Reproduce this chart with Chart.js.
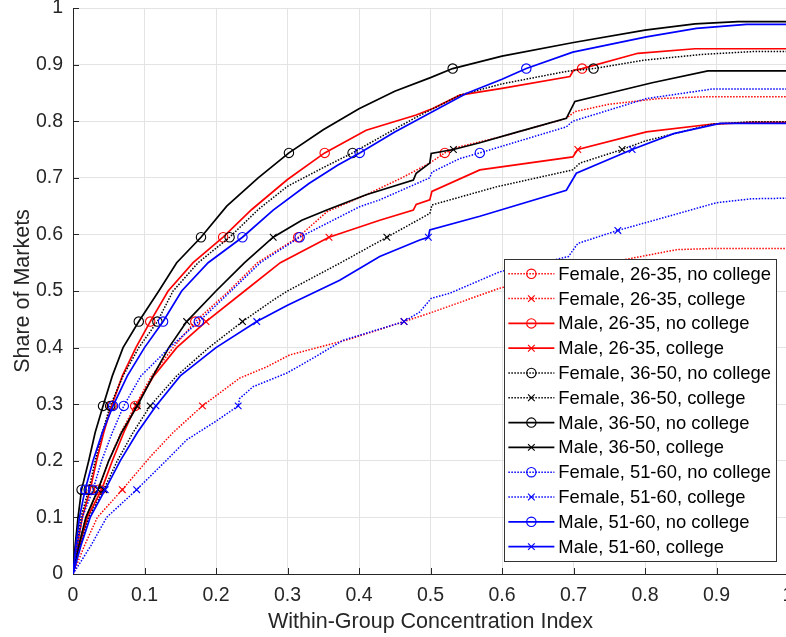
<!DOCTYPE html>
<html>
<head>
<meta charset="utf-8">
<script src="https://cdn.jsdelivr.net/npm/chart.js@4.4.1/dist/chart.umd.min.js"></script>
<style>
    html, body { margin: 0; padding: 0; overflow: hidden; background: #fff; }
    #wrap { position: relative; width: 800px; height: 637px; }
</style>
</head>
<body>
<div id="wrap"><canvas id="chart"></canvas></div>
<script>
'use strict';

// Each curve: [concentration index, share of markets].
const f2635nc = [[0,0],[0.008,0.05],[0.018,0.10],[0.036,0.149],[0.050,0.2],[0.067,0.25],[0.087,0.297],[0.110,0.35],[0.140,0.40],[0.171,0.446],[0.218,0.5],[0.258,0.55],[0.315,0.595],[0.355,0.64],[0.41,0.67],[0.46,0.70],[0.499,0.726],[0.520,0.744],[0.541,0.755],[0.60,0.773],[0.69,0.805],[0.702,0.817],[0.75,0.83],[0.82,0.840],[0.88,0.843],[1,0.843]];
const f2635c = [[0,0],[0.016,0.05],[0.034,0.10],[0.069,0.149],[0.108,0.207],[0.140,0.25],[0.181,0.297],[0.233,0.346],[0.271,0.366],[0.303,0.387],[0.387,0.415],[0.463,0.446],[0.499,0.461],[0.597,0.505],[0.65,0.522],[0.70,0.537],[0.774,0.556],[0.844,0.573],[0.891,0.575],[1,0.575]];
const m2635nc = [[0,0],[0.006,0.05],[0.013,0.10],[0.024,0.149],[0.033,0.2],[0.043,0.25],[0.054,0.297],[0.069,0.35],[0.088,0.40],[0.108,0.446],[0.133,0.5],[0.168,0.55],[0.210,0.595],[0.25,0.644],[0.30,0.697],[0.352,0.744],[0.410,0.784],[0.480,0.811],[0.504,0.823],[0.541,0.846],[0.60,0.858],[0.695,0.879],[0.70,0.890],[0.712,0.893],[0.79,0.920],[0.87,0.928],[1,0.928]];
const m2635c = [[0,0],[0.009,0.05],[0.020,0.10],[0.040,0.149],[0.055,0.2],[0.071,0.25],[0.088,0.297],[0.113,0.35],[0.145,0.40],[0.186,0.446],[0.24,0.5],[0.29,0.55],[0.358,0.595],[0.429,0.625],[0.476,0.643],[0.480,0.653],[0.499,0.661],[0.502,0.676],[0.569,0.714],[0.699,0.737],[0.706,0.750],[0.802,0.781],[0.895,0.795],[0.95,0.798],[1,0.798]];
const f3650nc = [[0,0],[0.005,0.05],[0.011,0.10],[0.022,0.149],[0.031,0.2],[0.041,0.25],[0.052,0.297],[0.070,0.35],[0.092,0.40],[0.118,0.446],[0.140,0.5],[0.175,0.55],[0.219,0.595],[0.26,0.645],[0.30,0.685],[0.35,0.718],[0.391,0.744],[0.43,0.772],[0.48,0.807],[0.541,0.846],[0.60,0.866],[0.69,0.888],[0.728,0.893],[0.80,0.908],[0.88,0.918],[0.95,0.923],[1,0.923]];
const f3650c = [[0,0],[0.010,0.05],[0.022,0.10],[0.043,0.149],[0.062,0.2],[0.084,0.25],[0.108,0.297],[0.145,0.35],[0.190,0.40],[0.237,0.446],[0.28,0.484],[0.30,0.5],[0.373,0.549],[0.439,0.595],[0.499,0.637],[0.502,0.652],[0.592,0.684],[0.699,0.714],[0.709,0.726],[0.768,0.750],[0.80,0.765],[0.895,0.795],[0.95,0.799],[1,0.799]];
const m3650nc = [[0,0],[0.003,0.05],[0.007,0.10],[0.012,0.149],[0.022,0.2],[0.031,0.25],[0.042,0.297],[0.055,0.35],[0.070,0.40],[0.092,0.446],[0.120,0.5],[0.145,0.55],[0.179,0.595],[0.215,0.65],[0.259,0.70],[0.302,0.744],[0.35,0.785],[0.40,0.822],[0.45,0.853],[0.50,0.877],[0.531,0.893],[0.60,0.915],[0.70,0.939],[0.80,0.961],[0.87,0.972],[0.93,0.976],[1,0.976]];
const m3650c = [[0,0],[0.008,0.05],[0.018,0.10],[0.035,0.149],[0.050,0.2],[0.068,0.25],[0.090,0.297],[0.112,0.35],[0.134,0.40],[0.159,0.446],[0.200,0.5],[0.240,0.55],[0.280,0.595],[0.32,0.625],[0.355,0.643],[0.41,0.670],[0.476,0.696],[0.48,0.708],[0.499,0.726],[0.501,0.743],[0.532,0.750],[0.569,0.762],[0.616,0.779],[0.690,0.805],[0.702,0.835],[0.81,0.868],[0.888,0.889],[1,0.889]];
const f5160nc = [[0,0],[0.006,0.05],[0.013,0.10],[0.028,0.149],[0.040,0.2],[0.055,0.25],[0.071,0.297],[0.095,0.35],[0.135,0.40],[0.176,0.446],[0.221,0.5],[0.262,0.55],[0.317,0.595],[0.401,0.649],[0.429,0.661],[0.499,0.700],[0.502,0.710],[0.541,0.734],[0.569,0.744],[0.69,0.79],[0.699,0.80],[0.802,0.840],[0.895,0.857],[1,0.857]];
const f5160c = [[0,0],[0.025,0.05],[0.047,0.10],[0.089,0.149],[0.130,0.2],[0.159,0.237],[0.200,0.27],[0.231,0.297],[0.233,0.310],[0.252,0.331],[0.299,0.355],[0.331,0.378],[0.378,0.413],[0.463,0.446],[0.485,0.463],[0.501,0.487],[0.527,0.496],[0.597,0.534],[0.65,0.548],[0.693,0.561],[0.706,0.584],[0.762,0.607],[0.83,0.631],[0.90,0.656],[0.95,0.663],[1,0.664]];
const m5160nc = [[0,0],[0.004,0.05],[0.009,0.10],[0.017,0.149],[0.028,0.2],[0.041,0.25],[0.056,0.297],[0.076,0.35],[0.100,0.40],[0.126,0.446],[0.152,0.5],[0.189,0.55],[0.237,0.595],[0.28,0.643],[0.33,0.69],[0.37,0.722],[0.401,0.744],[0.45,0.781],[0.50,0.815],[0.55,0.849],[0.60,0.874],[0.634,0.893],[0.699,0.922],[0.802,0.949],[0.872,0.964],[0.942,0.971],[1,0.971]];
const m5160c = [[0,0],[0.011,0.05],[0.024,0.10],[0.045,0.149],[0.066,0.2],[0.090,0.25],[0.116,0.297],[0.150,0.35],[0.200,0.40],[0.257,0.446],[0.30,0.475],[0.373,0.519],[0.429,0.561],[0.485,0.590],[0.497,0.595],[0.499,0.608],[0.569,0.632],[0.690,0.678],[0.704,0.708],[0.782,0.750],[0.84,0.778],[0.905,0.796],[1,0.796]];

// Shares at which the figure puts a marker on each curve.
const MARK_NC = [0.149, 0.297, 0.446, 0.595, 0.744, 0.893];
const MARK_C = [0.149, 0.297, 0.446, 0.595, 0.750];
const MARK_F5160C = [0.149, 0.297, 0.446, 0.607];

const LABELS = [
    'Female, 26-35, no college', 'Female, 26-35, college',
    'Male, 26-35, no college', 'Male, 26-35, college',
    'Female, 36-50, no college', 'Female, 36-50, college',
    'Male, 36-50, no college', 'Male, 36-50, college',
    'Female, 51-60, no college', 'Female, 51-60, college',
    'Male, 51-60, no college', 'Male, 51-60, college',
];
const SERIES = [f2635nc, f2635c, m2635nc, m2635c, f3650nc, f3650c, m3650nc, m3650c, f5160nc, f5160c, m5160nc, m5160c];
const MARKS = [MARK_NC, MARK_C, MARK_NC, MARK_C, MARK_NC, MARK_C, MARK_NC, MARK_C, MARK_NC, MARK_F5160C, MARK_NC, MARK_C];
const TICK_LABELS = ['0', '0.1', '0.2', '0.3', '0.4', '0.5', '0.6', '0.7', '0.8', '0.9', '1'];

const AXIS_COLOR = '#262626';
const FONT = '"Liberation Sans", Arial, sans-serif';
const GROUP_COLORS = ['#ff0000', '#000000', '#0000ff'];

const datasets = SERIES.map((pts, i) => {
    const color = GROUP_COLORS[Math.floor(i / 4)];
    const dotted = i % 4 < 2;
    const marks = MARKS[i];
    return {
        label: LABELS[i],
        data: pts.map(([x, y]) => ({ x, y })),
        showLine: true,
        fill: false,
        tension: 0,
        borderColor: color,
        borderWidth: dotted ? 1.5 : 1.7,
        borderDash: dotted ? [1.5, 1.5] : [],
        pointStyle: i % 2 === 0 ? 'circle' : 'crossRot',
        pointRadius: (ctx) => (ctx.raw && marks.includes(ctx.raw.y) ? 4.7 : 0),
        pointHoverRadius: 0,
        pointBorderColor: color,
        pointBackgroundColor: 'rgba(0,0,0,0)',
        pointBorderWidth: 1.1,
        order: SERIES.length - i,
    };
});

// MATLAB-style ticks pointing into the axes.
const innerTicks = {
    id: 'innerTicks',
    beforeDatasetsDraw(chart) {
        const { ctx, chartArea: a, scales: { x, y } } = chart;
        ctx.save();
        ctx.strokeStyle = AXIS_COLOR;
        ctx.lineWidth = 1;
        ctx.beginPath();
        x.ticks.forEach((t) => {
            const px = Math.round(x.getPixelForValue(t.value)) + 0.5;
            ctx.moveTo(px, a.bottom);
            ctx.lineTo(px, a.bottom - 6);
        });
        y.ticks.forEach((t) => {
            const py = Math.round(y.getPixelForValue(t.value)) + 0.5;
            ctx.moveTo(a.left, py);
            ctx.lineTo(a.left + 6, py);
        });
        ctx.stroke();
        ctx.restore();
    },
};

// Boxed legend in the lower right of the plot area.
const legendBox = {
    id: 'legendBox',
    afterDraw(chart) {
        const { ctx, chartArea: a } = chart;
        const sets = chart.data.datasets;
        const rowH = 24.8;
        ctx.save();
        ctx.font = '18.4px ' + FONT;
        const textW = Math.max(...sets.map((d) => ctx.measureText(d.label).width));
        const w = 4 + 46 + 4 + textW + 5;
        const h = rowH * sets.length + 4;
        const right = a.right - 12;
        const bottom = a.bottom - 13;
        const left = right - w;
        const top = bottom - h;
        ctx.fillStyle = '#fff';
        ctx.fillRect(left, top, w, h);
        ctx.strokeStyle = '#333';
        ctx.lineWidth = 1;
        ctx.strokeRect(Math.round(left) + 0.5, Math.round(top) + 0.5, Math.round(w), Math.round(h));
        sets.forEach((d, i) => {
            const cy = top + 2 + rowH * (i + 0.5);
            ctx.save();
            ctx.strokeStyle = d.borderColor;
            ctx.lineWidth = d.borderWidth;
            ctx.setLineDash(d.borderDash);
            ctx.beginPath();
            ctx.moveTo(left + 4, cy);
            ctx.lineTo(left + 50, cy);
            ctx.stroke();
            ctx.setLineDash([]);
            ctx.lineWidth = d.pointBorderWidth;
            ctx.fillStyle = 'rgba(0,0,0,0)';
            Chart.helpers.drawPoint(ctx, {
                pointStyle: d.pointStyle,
                radius: 4.7,
                rotation: 0,
                borderWidth: d.pointBorderWidth,
            }, left + 27, cy);
            ctx.restore();
            ctx.fillStyle = '#000';
            ctx.textBaseline = 'middle';
            ctx.textAlign = 'left';
            ctx.fillText(d.label, left + 54, cy + 1);
        });
        ctx.restore();
    },
};

new Chart(document.getElementById('chart'), {
    type: 'scatter',
    data: { datasets },
    options: {
        responsive: true,
        maintainAspectRatio: false,
        animation: false,
        events: [],
        layout: { padding: { top: 8, right: 12, left: 0, bottom: 0 } },
        plugins: { legend: { display: false }, tooltip: { enabled: false } },
        scales: {
            x: {
                type: 'linear',
                min: 0,
                max: 1,
                grid: { color: '#e3e3e3', drawTicks: false },
                border: { display: true, color: AXIS_COLOR, width: 1 },
                ticks: {
                    stepSize: 0.1,
                    autoSkip: false,
                    maxRotation: 0,
                    padding: 10,
                    color: AXIS_COLOR,
                    font: { family: FONT, size: 19.5 },
                    callback: (v, i) => TICK_LABELS[i],
                },
                title: {
                    display: true,
                    text: 'Within-Group Concentration Index',
                    color: AXIS_COLOR,
                    font: { family: FONT, size: 21.5 },
                    padding: { top: 0, bottom: 2 },
                },
                afterFit(scale) {
                    scale.height = 63;
                    scale.paddingLeft = 0;
                    scale.paddingRight = 0;
                },
            },
            y: {
                type: 'linear',
                min: 0,
                max: 1,
                grid: { color: '#e3e3e3', drawTicks: false },
                border: { display: true, color: AXIS_COLOR, width: 1 },
                ticks: {
                    stepSize: 0.1,
                    autoSkip: false,
                    padding: 10,
                    color: AXIS_COLOR,
                    font: { family: FONT, size: 19.5 },
                    callback: (v, i) => TICK_LABELS[i],
                },
                title: {
                    display: true,
                    text: 'Share of Markets',
                    color: AXIS_COLOR,
                    font: { family: FONT, size: 21.5 },
                    padding: { top: 10, bottom: 0 },
                },
                afterFit(scale) {
                    scale.width = 73;
                    scale.paddingTop = 0;
                    scale.paddingBottom = 0;
                },
            },
        },
    },
    plugins: [innerTicks, legendBox],
});
</script>
</body>
</html>
